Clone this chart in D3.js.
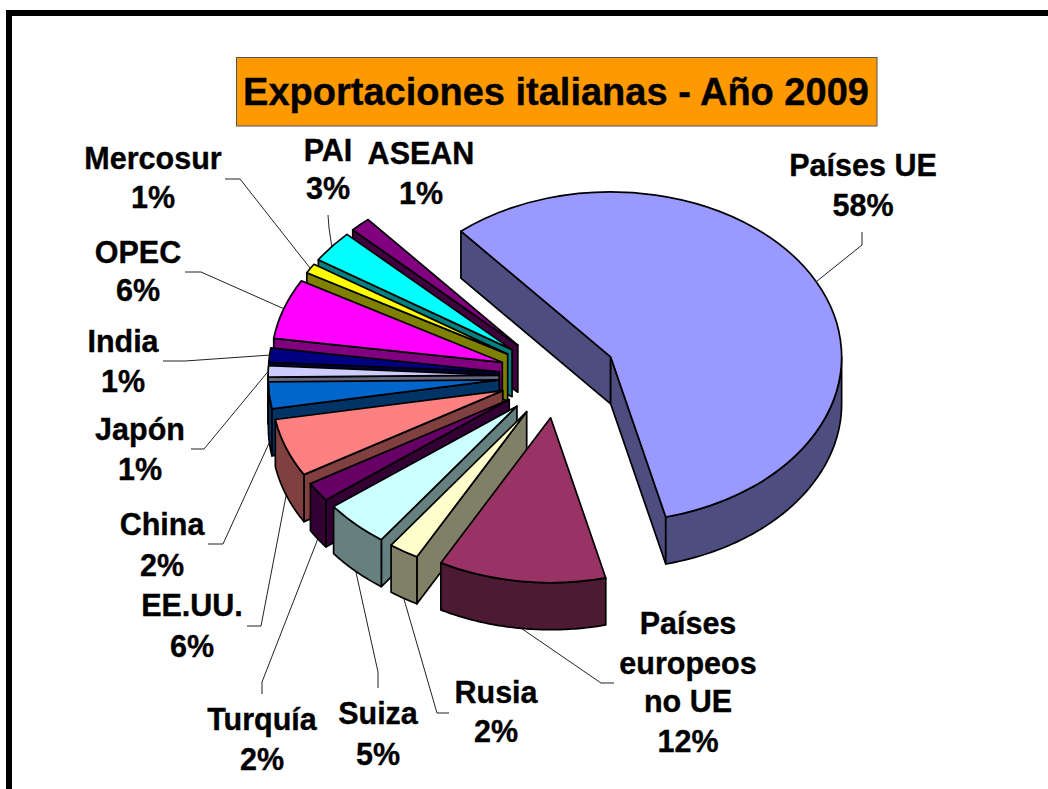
<!DOCTYPE html>
<html lang="es">
<head>
<meta charset="utf-8">
<title>Exportaciones italianas - Año 2009</title>
<script src="https://cdn.jsdelivr.net/npm/d3@7/dist/d3.min.js"></script>
<style>
  html, body { margin: 0; padding: 0; background: #fff; }
  svg { display: block; }
  text { font-family: "Liberation Sans", Arial, sans-serif; font-weight: bold; fill: #000; stroke: #000; stroke-width: 0.35px; }
</style>
</head>
<body>
<svg id="chart" width="1048" height="789"></svg>
<script>
// ---- data ----
const chartTitle = "Exportaciones italianas - Año 2009";
const categories = ["Países UE", "Países europeos no UE", "Rusia", "Suiza", "Turquía", "EE.UU.", "China", "Japón", "India", "OPEC", "Mercosur", "PAI", "ASEAN"];
const values = [57.3, 11.7, 2.1, 4.6, 1.9, 5.7, 2.6, 1.1, 1.4, 5.9, 0.95, 3.15, 1.45];
const percentLabels = ["58%", "12%", "2%", "5%", "2%", "6%", "2%", "1%", "1%", "6%", "1%", "3%", "1%"];
const topColors = ["#9999FF", "#993366", "#FFFFCC", "#CCFFFF", "#660066", "#FF8080", "#0066CC", "#CCCCFF", "#000080", "#FF00FF", "#FFFF00", "#00FFFF", "#800080"];
const sideColors = ["#4D4D80", "#4D1A33", "#808066", "#668080", "#330033", "#804040", "#003366", "#666680", "#000040", "#800080", "#808000", "#008080", "#400040"];

// ---- layout ----
const W = 1048, H = 789;
const center = { x: 558.1, y: 376 };
const radius = 231, tilt = 0.714, explode = 59, depth = 47;
const firstAngle = -40.4 * Math.PI / 180;
const fontSize = 30.5;

const labelLayout = [
  { cx: 863, lines: ["Países UE"], base: [176, 216], leader: [[862, 232], [862, 245]] },
  { cx: 688, lines: ["Países", "europeos", "no UE"], base: [634, 674, 712, 752], leader: [[614, 683], [601, 683]] },
  { cx: 496, lines: ["Rusia"], base: [703, 742], leader: [[449, 713], [437, 713]] },
  { cx: 378, lines: ["Suiza"], base: [724, 765], leader: [[378, 688], [378, 672]] },
  { cx: 262, lines: ["Turquía"], base: [730, 770], leader: [[262, 694], [262, 682]] },
  { cx: 192, lines: ["EE.UU."], base: [616, 657], leader: [[247, 626], [261, 626]] },
  { cx: 162, lines: ["China"], base: [535, 576], leader: [[208, 544], [223, 544]] },
  { cx: 140, lines: ["Japón"], base: [440, 480], leader: [[191, 449], [204, 449]] },
  { cx: 123, lines: ["India"], base: [352, 392], leader: [[163, 361], [185, 361]] },
  { cx: 138, lines: ["OPEC"], base: [263, 301], leader: [[185, 272], [201, 272]] },
  { cx: 153, lines: ["Mercosur"], base: [169, 208], leader: [[225, 179], [240, 179]] },
  { cx: 328, lines: ["PAI"], base: [161, 199], leader: [[328, 215], [329, 228]] },
  { cx: 421, lines: ["ASEAN"], base: [164, 204], leader: null }
];

const svg = d3.select("#chart").attr("viewBox", [0, 0, W, H]);

// page frame
svg.append("path")
  .attr("d", d3.line()([[9, H], [9, 13], [W, 13]]))
  .attr("fill", "none").attr("stroke", "#000").attr("stroke-width", 6);

// title
svg.append("rect")
  .attr("x", 236.5).attr("y", 57.5).attr("width", 640.5).attr("height", 68.5)
  .attr("fill", "#FF9900").attr("stroke", "#555").attr("stroke-width", 1);
svg.append("text")
  .attr("x", 556).attr("y", 105).attr("text-anchor", "middle")
  .attr("font-size", 38).text(chartTitle);

// ---- slices ----
const pie = d3.pie().sort(null).startAngle(firstAngle).endAngle(firstAngle + 2 * Math.PI);
const arcGen = d3.arc().innerRadius(0).outerRadius(radius);
const lineGen = d3.line();
const TAU = 2 * Math.PI;
const norm = a => ((a % TAU) + TAU) % TAU;

const slices = pie(values).map((d, i) => {
  const mid = (d.startAngle + d.endAngle) / 2;
  return {
    ...d, i, mid,
    apex: {
      x: center.x + explode * Math.sin(mid),
      y: center.y - explode * tilt * Math.cos(mid)
    }
  };
});

const project = (s, a, r, z = 0) => [
  s.apex.x + r * Math.sin(a),
  s.apex.y - r * tilt * Math.cos(a) + z
];

// radial cut faces that look toward the viewer
function radialWalls(s) {
  const out = [];
  const a0 = norm(s.startAngle), a1 = norm(s.endAngle);
  if (a0 > Math.PI) out.push(s.startAngle);
  if (a1 > 0 && a1 < Math.PI) out.push(s.endAngle);
  return out.map(a => lineGen([
    project(s, a, 0), project(s, a, radius),
    project(s, a, radius, depth), project(s, a, 0, depth)
  ]) + "Z");
}

// rim: the part of the outer arc in the front half of the ellipse
function rimWall(s) {
  const lo = Math.PI / 2, hi = 3 * Math.PI / 2;
  const span = s.endAngle - s.startAngle;
  let from = norm(s.startAngle), to = from + span;
  if (from > hi) { from -= TAU; to -= TAU; }
  const start = Math.max(from, lo), end = Math.min(to, hi);
  if (end <= start) return null;
  const steps = d3.range(0, 61).map(t => start + (end - start) * t / 60);
  const top = steps.map(a => project(s, a, radius));
  const bottom = steps.slice().reverse().map(a => project(s, a, radius, depth));
  return lineGen(top.concat(bottom)) + "Z";
}

// leader lines
const leaderData = slices.filter(s => labelLayout[s.i].leader);
svg.append("g").selectAll("path").data(leaderData).join("path")
  .attr("fill", "none").attr("stroke", "#222").attr("stroke-width", 1)
  .attr("d", s => {
    const z = Math.cos(s.mid) < 0 ? depth : 0;
    return lineGen([...labelLayout[s.i].leader, project(s, s.mid, radius, z)]);
  });

// painter's order: back of the pie first
const drawOrder = [slices[0]].concat(
  slices.slice(1).sort((a, b) => d3.descending(Math.cos(a.mid), Math.cos(b.mid)))
);

const groups = svg.append("g").selectAll("g").data(drawOrder).join("g");
const solid = sel => sel
  .attr("stroke", "#000").attr("stroke-width", 1.7).attr("stroke-linejoin", "round");

groups.each(function (s) {
  const g = d3.select(this);
  radialWalls(s).forEach(d => {
    g.append("path").attr("d", d).attr("fill", sideColors[s.i]).call(solid);
  });
  const rim = rimWall(s);
  if (rim) g.append("path").attr("d", rim).attr("fill", sideColors[s.i]).call(solid);
  g.append("path")
    .attr("d", arcGen(s))
    .attr("transform", `translate(${s.apex.x},${s.apex.y}) scale(1,${tilt})`)
    .attr("vector-effect", "non-scaling-stroke")
    .attr("fill", topColors[s.i]).call(solid);
});

// labels
svg.append("g").selectAll("text")
  .data(slices.flatMap(s => {
    const l = labelLayout[s.i];
    return l.lines.concat(percentLabels[s.i]).map((t, j) => ({ t, x: l.cx, y: l.base[j] }));
  }))
  .join("text")
  .attr("x", d => d.x).attr("y", d => d.y)
  .attr("text-anchor", "middle").attr("font-size", fontSize)
  .text(d => d.t);
</script>
</body>
</html>
